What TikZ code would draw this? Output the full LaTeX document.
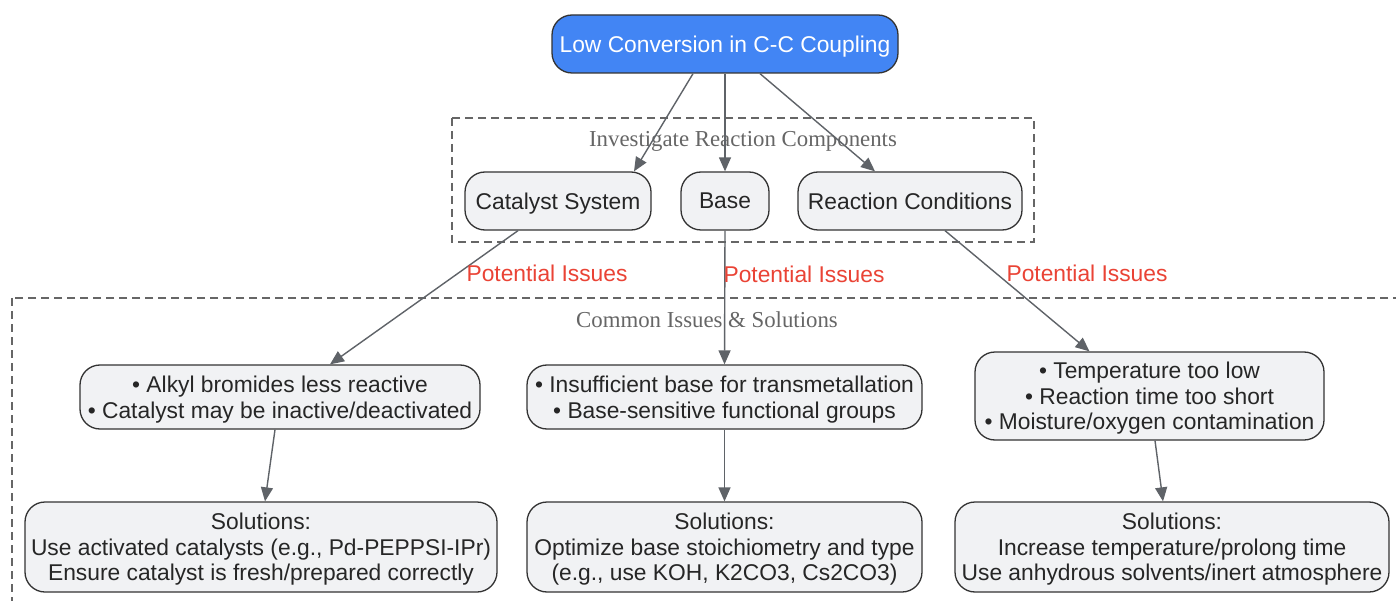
\documentclass[tikz,border=0pt]{standalone}
\usepackage{fontspec}
\setmainfont{Liberation Sans}
\newfontfamily\clusterfont{Liberation Serif}
\usetikzlibrary{arrows.meta,calc}
\definecolor{topblue}{RGB}{66,133,244}
\definecolor{boxfill}{RGB}{241,242,244}
\definecolor{boxline}{RGB}{51,51,51}
\definecolor{arrowgray}{RGB}{95,99,104}
\definecolor{lblred}{RGB}{234,67,53}
\definecolor{clustergray}{RGB}{102,102,102}
\tikzset{
  x=1pt, y=-1pt,
  box/.style={draw=boxline, line width=1.3pt, fill=boxfill, rounded corners=20pt,
    align=center, inner sep=0pt, text=black!85, text depth=-1.5pt, font=\fontsize{22.8}{25.5}\selectfont},
  topbox/.style={box, fill=topblue, text=white},
  conn/.style={draw=arrowgray, line width=1.4pt, -{Triangle[length=14pt,width=12pt]}},
  lbl/.style={text=lblred, inner sep=0pt, anchor=west, font=\fontsize{22.8}{25.5}\selectfont},
  cluster/.style={draw=clustergray, line width=1.2pt, dash pattern=on 8pt off 5pt},
  clusterlbl/.style={text=clustergray, inner sep=0pt, text depth=0pt, font=\clusterfont\fontsize{22.8}{25.5}\selectfont}
}
\begin{document}
\begin{tikzpicture}
\useasboundingbox[fill=white] (0,0) rectangle (1396,601);
% clusters
\draw[cluster] (452,118) rectangle (1034,242);
\node[clusterlbl] (cl1) at (743,139) {Investigate Reaction Components};
\draw[cluster] (12,298) rectangle (1410,615);
\node[clusterlbl] (cl2) at (707,320) {Common Issues \& Solutions};
% nodes
\node[topbox, minimum width=346pt, minimum height=58pt] (top) at (725,44) {Low Conversion in C-C Coupling};
\node[box, minimum width=186pt, minimum height=58pt] (cat) at (558,201) {Catalyst System};
\node[box, minimum width=88pt, minimum height=58pt] (base) at (725,201) {Base};
\node[box, minimum width=224pt, minimum height=58pt] (rc) at (910,201) {Reaction Conditions};
\node[box, minimum width=400pt, minimum height=64pt] (i1) at (280,397) {• Alkyl bromides less reactive\\• Catalyst may be inactive/deactivated};
\node[box, minimum width=395pt, minimum height=64pt] (i2) at (724.5,397) {• Insufficient base for transmetallation\\• Base-sensitive functional groups};
\node[box, minimum width=349pt, minimum height=88pt] (i3) at (1149.5,396) {• Temperature too low\\• Reaction time too short\\• Moisture/oxygen contamination};
\node[box, minimum width=472pt, minimum height=90pt] (s1) at (261,547) {Solutions:\\Use activated catalysts (e.g., Pd-PEPPSI-IPr)\\Ensure catalyst is fresh/prepared correctly};
\node[box, minimum width=395pt, minimum height=90pt] (s2) at (724.5,547) {Solutions:\\Optimize base stoichiometry and type\\(e.g., use KOH, K2CO3, Cs2CO3)};
\node[box, minimum width=434pt, minimum height=90pt] (s3) at (1172,547) {Solutions:\\Increase temperature/prolong time\\Use anhydrous solvents/inert atmosphere};
% connectors
\draw[conn] ([xshift=-32pt]top.south) -- ([xshift=76pt]cat.north);
\draw[conn] (top.south) -- (base.north);
\draw[conn] ([xshift=35pt]top.south) -- ([xshift=-35pt]rc.north);
\draw[conn] ([xshift=-40pt]cat.south) -- node[lbl, pos=0.32, xshift=8pt] {Potential Issues} ([xshift=50pt]i1.north);
\draw[conn] (base.south) -- node[lbl, pos=0.326, xshift=-2pt] {Potential Issues} (i2.north);
\draw[conn] ([xshift=35pt]rc.south) -- node[lbl, pos=0.352, xshift=10pt] {Potential Issues} ([xshift=-60pt]i3.north);
\draw[conn] ([xshift=-5pt]i1.south) -- ([xshift=4pt]s1.north);
\draw[conn] (i2.south) -- (s2.north);
\draw[conn] ([xshift=5.5pt]i3.south) -- ([xshift=-9pt]s3.north);
\end{tikzpicture}
\end{document}
